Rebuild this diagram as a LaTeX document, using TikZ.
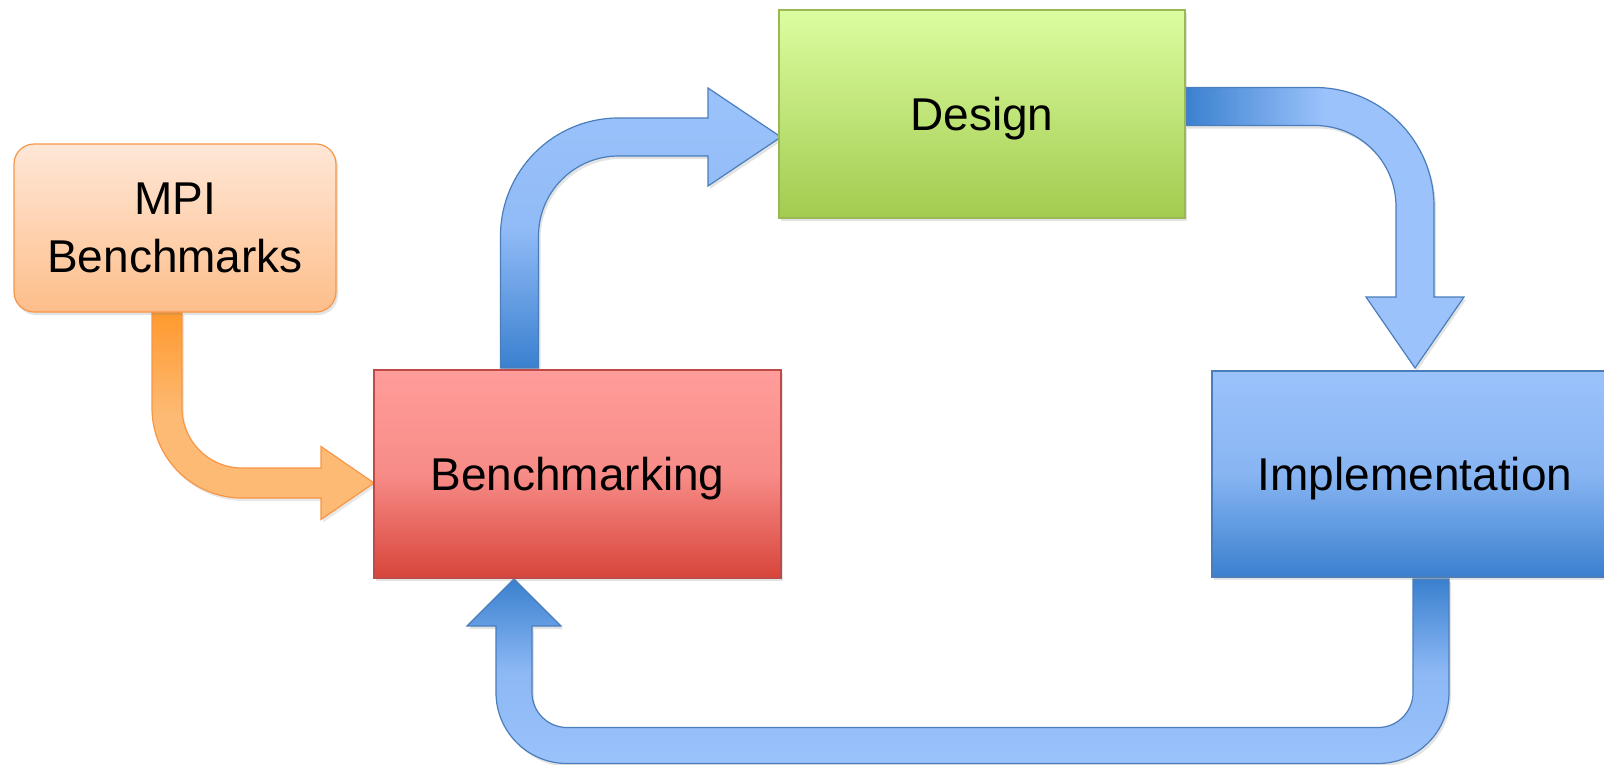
\documentclass[tikz,border=0pt]{standalone}
\usepackage{fontspec}
\setmainfont{Liberation Sans}
\usetikzlibrary{calc,shadows,backgrounds}
\definecolor{flowdark}{RGB}{58,128,207}
\definecolor{flowlight}{RGB}{155,194,251}
\definecolor{flowline}{RGB}{74,126,187}
\definecolor{peachtop}{RGB}{255,231,215}
\definecolor{peachbot}{RGB}{253,190,138}
\definecolor{peachline}{RGB}{247,150,70}
\definecolor{amber}{RGB}{255,153,46}
\definecolor{amberlight}{RGB}{253,186,116}
\definecolor{rosetop}{RGB}{255,157,154}
\definecolor{rosebot}{RGB}{215,69,59}
\definecolor{roseline}{RGB}{190,75,72}
\definecolor{limetop}{RGB}{220,253,160}
\definecolor{limebot}{RGB}{162,203,79}
\definecolor{limeline}{RGB}{152,185,84}

\begin{document}
\begin{tikzpicture}[
  x=1pt,y=-1pt,
  line join=miter,
  box/.style={draw,line width=1.2pt,inner sep=0pt,outer sep=0pt,
    minimum width=406pt,minimum height=208pt,align=center,text depth=0pt,
    font=\fontsize{46}{58}\selectfont,
    drop shadow={opacity=.22,shadow xshift=2pt,shadow yshift=-3pt}},
  flow/.style={draw=flowline,line width=1.2pt,
    drop shadow={opacity=.22,shadow xshift=2pt,shadow yshift=-3pt}},
  feed/.style={draw=peachline,line width=1.2pt,
    drop shadow={opacity=.18,shadow xshift=2pt,shadow yshift=-3pt}}
]
\useasboundingbox (0,0) rectangle (1604,764);

% stages
\node[box,rounded corners=20pt,minimum width=322pt,minimum height=168pt,
  draw=peachline,top color=peachtop,bottom color=peachbot]
  (mpi) at (175,228) {MPI\\Benchmarks};
\node[box,minimum width=407pt,draw=roseline,top color=rosetop,bottom color=rosebot,
  middle color=rosetop!80!rosebot]
  (bench) at (577.5,474) {Benchmarking};
\node[box,draw=limeline,top color=limetop,bottom color=limebot]
  (design) at (982,114) {Design};
\node[box,minimum height=206pt,draw=flowline,top color=flowlight,bottom color=flowdark,
  middle color=flowlight!80!flowdark]
  (impl) at (1415,474) {Implementation};

\begin{pgfonlayer}{background}
% input benchmarks feed the cycle
\coordinate (oa) at ($(mpi.south)+(-8,0)$);
\coordinate (ob) at ($(bench.west)+(0,9)$);
\coordinate (oc) at (oa |- ob);
\shadedraw[feed,top color=amber,bottom color=amberlight,middle color=amberlight]
  ($(oa)+(-15,0)$) -- ($(oc)+(-15,-75)$)
  .. controls ($(oc)+(-15,-25.3)$) and ($(oc)+(25.3,15)$) .. ($(oc)+(75,15)$)
  -- ($(ob)+(-53,15)$) -- ($(ob)+(-53,36.5)$) -- (ob)
  -- ($(ob)+(-53,-36.5)$) -- ($(ob)+(-53,-15)$)
  -- ($(oc)+(75,-15)$)
  .. controls ($(oc)+(41.9,-15)$) and ($(oc)+(15,-41.9)$) .. ($(oc)+(15,-75)$)
  -- ($(oa)+(15,0)$) -- cycle;

% benchmarking -> design
\coordinate (ua) at ($(bench.north)+(-58,-2)$);
\coordinate (ub) at ($(design.west)+(2,23)$);
\coordinate (uc) at (ua |- ub);
\shadedraw[flow,top color=flowlight,bottom color=flowdark,middle color=flowlight!90!flowdark]
  ($(ua)+(-19,0)$) -- ($(uc)+(-19,99)$)
  .. controls ($(uc)+(-19,33.8)$) and ($(uc)+(33.8,-19)$) .. ($(uc)+(99,-19)$)
  -- ($(ub)+(-73,-19)$) -- ($(ub)+(-73,-49)$) -- (ub)
  -- ($(ub)+(-73,49)$) -- ($(ub)+(-73,19)$)
  -- ($(uc)+(99,19)$)
  .. controls ($(uc)+(54.8,19)$) and ($(uc)+(19,54.8)$) .. ($(uc)+(19,99)$)
  -- ($(ua)+(19,0)$) -- cycle;

% design -> implementation
\coordinate (da) at ($(design.east)+(0,-7.5)$);
\coordinate (db) at ($(impl.north)+(0,-3)$);
\coordinate (dc) at (db |- da);
\shadedraw[flow,left color=flowdark,right color=flowlight,middle color=flowlight]
  ($(da)+(0,-19)$) -- ($(dc)+(-100,-19)$)
  .. controls ($(dc)+(-34.3,-19)$) and ($(dc)+(19,34.3)$) .. ($(dc)+(19,100)$)
  -- ($(db)+(19,-71)$) -- ($(db)+(49,-71)$) -- (db)
  -- ($(db)+(-49,-71)$) -- ($(db)+(-19,-71)$)
  -- ($(dc)+(-19,100)$)
  .. controls ($(dc)+(-19,55.3)$) and ($(dc)+(-55.3,19)$) .. ($(dc)+(-100,19)$)
  -- ($(da)+(0,19)$) -- cycle;

% implementation -> benchmarking (loop back)
\coordinate (ba) at ($(impl.south)+(16,2)$);
\coordinate (bb) at ($(bench.south)+(-63.5,1)$);
\coordinate (bc) at ($(ba)+(0,166.5)$);
\coordinate (bd) at (bb |- bc);
\shadedraw[flow,top color=flowdark,bottom color=flowlight,middle color=flowlight!85!flowdark]
  ($(ba)+(-18,0)$) -- ($(bc)+(-18,-53)$)
  .. controls ($(bc)+(-18,-33.7)$) and ($(bc)+(-33.7,-18)$) .. ($(bc)+(-53,-18)$)
  -- ($(bd)+(53,-18)$)
  .. controls ($(bd)+(33.7,-18)$) and ($(bd)+(18,-33.7)$) .. ($(bd)+(18,-53)$)
  -- ($(bb)+(18,47)$) -- ($(bb)+(47,47)$) -- (bb)
  -- ($(bb)+(-47,47)$) -- ($(bb)+(-18,47)$)
  -- ($(bd)+(-18,-53)$)
  .. controls ($(bd)+(-18,-13.8)$) and ($(bd)+(13.8,18)$) .. ($(bd)+(53,18)$)
  -- ($(bc)+(-53,18)$)
  .. controls ($(bc)+(-13.8,18)$) and ($(bc)+(18,-13.8)$) .. ($(bc)+(18,-53)$)
  -- ($(ba)+(18,0)$) -- cycle;
\end{pgfonlayer}

\end{tikzpicture}
\end{document}
